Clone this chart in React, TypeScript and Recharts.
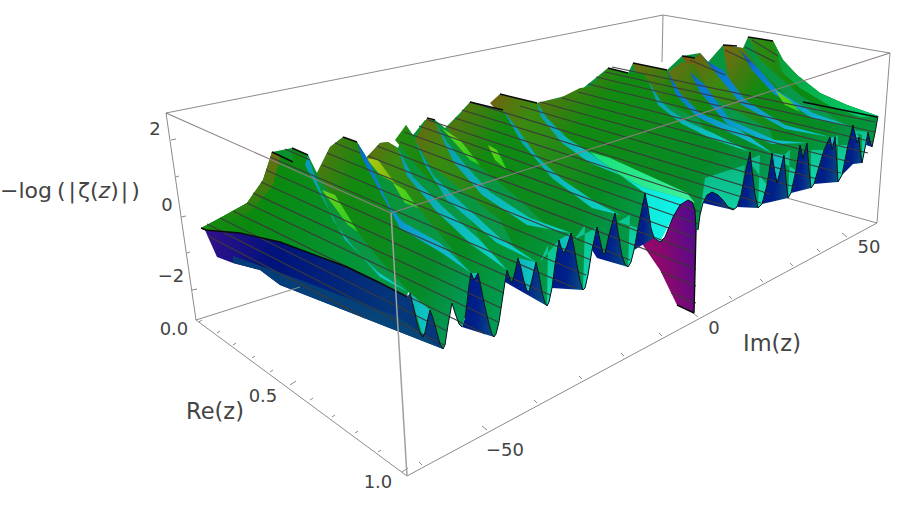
import { ComposedChart, Area, Line, XAxis, YAxis, ReferenceDot } from 'recharts'

type Pt = [number, number]

const BACK_EDGES = [
  [166, 113, 663, 15], [663, 15, 890, 53], [663, 15, 662, 62], [166, 113, 196, 320],
  [196, 320, 300, 287], [787, 198, 877, 223], [890, 53, 877, 223], [877, 223, 407, 476], [196, 320, 407, 476],
]
const FRONT_EDGES = [[166, 113, 391, 213], [391, 213, 890, 53]]
const FRONT_POST = [[391, 213, 407, 476]]

const HEIGHT_TICKS = [[171, 140, 176, 139], [176, 177, 179, 176], [181, 217, 186, 216], [187, 253, 190, 252], [192, 290, 197, 289]]
const RE_TICKS = [
  [199, 322, 202, 320], [217, 333, 220, 331], [233, 345, 236, 343], [252, 358, 255, 356], [270, 372, 273, 370],
  [290, 385, 296, 381], [310, 400, 313, 398], [332, 417, 335, 415], [355, 433, 358, 431], [378, 452, 381, 450], [402, 472, 408, 468],
]
const IM_TICKS = [
  [422, 465, 419, 462], [487, 430, 482, 426], [537, 403, 534, 400], [582, 379, 579, 376], [624, 356, 621, 353],
  [662, 336, 659, 333], [698, 317, 693, 313], [732, 299, 729, 296], [763, 282, 760, 279], [793, 266, 790, 263],
  [820, 252, 817, 249], [847, 237, 842, 233],
]

// the curve along Re(z) = 1, left of the pole / up to the pole / right of the pole
const FRONT_A: Pt[] = [[410, 293], [413, 305], [417, 323], [420, 333], [423, 337], [425, 333], [428, 318], [430, 310], [433, 318], [437, 333], [440, 344], [443, 349], [445, 345], [448, 325], [452, 303], [455, 313], [459, 324], [462, 327]]
const FRONT_B: Pt[] = [[465, 318], [467, 303], [469, 285], [471, 273], [474, 280], [478, 273], [481, 287], [485, 307], [489, 324], [492, 334], [494, 337], [496, 334], [499, 322], [502, 302], [505, 282], [507, 270], [510, 279], [512, 283], [515, 272], [518, 258], [521, 268], [524, 282], [527, 291], [529, 292], [532, 280], [536, 262], [539, 275], [542, 292], [545, 303], [547, 306], [549, 302], [552, 288], [555, 265], [559, 240], [561, 248], [564, 253], [567, 246], [571, 233], [574, 247], [577, 265], [580, 281], [583, 290], [585, 288], [588, 275], [592, 250], [597, 227], [600, 240], [603, 254], [605, 253], [609, 235], [615, 213], [618, 232], [622, 256], [625, 264], [628, 267], [631, 262], [634, 250], [638, 228], [645, 193], [648, 208], [651, 228], [654, 238], [660, 242], [665, 237], [673, 217], [680, 205], [688, 200], [692, 202], [695, 210], [696, 230]]
const FRONT_C: Pt[] = [[698, 230], [700, 215], [703, 203], [707, 195], [712, 192], [718, 195], [723, 200], [728, 207], [733, 210], [737, 207], [741, 195], [746, 170], [750, 152], [752, 170], [755, 195], [758, 208], [762, 204], [767, 185], [772, 153], [774, 168], [777, 183], [780, 172], [784, 155], [786, 180], [788, 198], [791, 193], [796, 170], [800, 145], [803, 158], [807, 143], [809, 170], [811, 188], [814, 184], [818, 170], [824, 150], [830, 137], [832, 150], [835, 137], [837, 165], [838, 182], [842, 175], [848, 145], [853, 125], [857, 143], [859, 137], [860, 150], [862, 163], [865, 148], [868, 132], [870, 142], [872, 147], [875, 133], [878, 116]]
const FRONT = [...FRONT_A, ...FRONT_B, ...FRONT_C]

// top of the whole surface, then the crests of the front curve
const BODY: Pt[] = [[201, 228], [220, 218], [247, 203], [263, 180], [272, 152], [292, 148], [308, 155], [317, 173], [330, 147], [343, 137], [357, 142], [366, 158], [380, 143], [388, 142], [398, 148], [406, 125], [413, 135], [425, 120], [435, 120], [445, 128], [460, 113], [470, 102], [503, 110], [537, 103], [577, 93], [608, 68], [628, 73], [633, 63], [667, 70], [682, 56], [700, 53], [708, 62], [723, 45], [743, 48], [748, 37], [773, 41], [783, 60], [797, 75], [820, 93], [847, 105], [878, 116], [853, 125], [830, 137], [807, 143], [784, 155], [772, 153], [750, 152], [712, 192], [688, 200], [645, 193], [615, 213], [597, 227], [571, 233], [536, 262], [518, 258], [507, 270], [478, 273], [471, 273], [452, 303], [430, 310], [410, 293], [205, 230]]

// ridge crest and flank of each wedge, right to left
const R1: Pt[] = [[748, 37], [773, 41], [783, 60], [797, 75], [820, 93], [847, 105], [878, 116]]
const R1_EDGE: Pt[] = [[773, 41], [783, 60], [797, 75], [820, 93], [847, 105], [878, 116], [860, 117], [830, 106], [800, 88], [782, 72]]
const R2: Pt[] = [[723, 45], [743, 48], [760, 70], [790, 100], [815, 120], [853, 125]]
const R2_EDGE: Pt[] = [[740, 50], [757, 67], [777, 90], [813, 113], [852, 127], [812, 118], [774, 94], [752, 70]]
const R3: Pt[] = [[682, 56], [695, 58], [700, 53], [708, 62], [723, 70], [745, 100], [785, 125], [830, 137]]
const R3_EDGE: Pt[] = [[700, 53], [708, 62], [723, 70], [745, 100], [785, 125], [830, 137], [785, 129], [742, 105], [718, 76]]
const R4: Pt[] = [[668, 72], [682, 62], [695, 65], [705, 85], [730, 120], [775, 140], [807, 143]]
const R4_EDGE: Pt[] = [[690, 72], [705, 85], [730, 120], [775, 140], [807, 143], [772, 144], [727, 124], [700, 92]]
const R5: Pt[] = [[633, 63], [667, 70], [680, 93], [700, 113], [740, 130], [772, 153]]
const R5_EDGE: Pt[] = [[667, 70], [680, 93], [700, 113], [740, 130], [772, 153], [737, 136], [697, 117], [676, 95]]
const R6: Pt[] = [[537, 103], [560, 98], [580, 88], [590, 87], [608, 68], [628, 73], [643, 73], [660, 100], [670, 110], [690, 123], [713, 133], [750, 152]]
const R6_EDGE: Pt[] = [[648, 80], [660, 100], [670, 110], [690, 123], [713, 133], [750, 152], [712, 139], [682, 124], [658, 105]]
const R7: Pt[] = [[490, 103], [500, 94], [537, 103], [547, 118], [567, 138], [590, 153], [620, 175], [645, 193]]
const R7_EDGE: Pt[] = [[537, 103], [547, 118], [567, 138], [590, 153], [620, 175], [590, 163], [562, 143], [541, 117]]
const R8: Pt[] = [[447, 127], [460, 115], [470, 102], [503, 110], [517, 128], [537, 157], [563, 180], [597, 203], [620, 215], [615, 213]]
const R8_EDGE: Pt[] = [[503, 110], [517, 128], [537, 157], [563, 180], [597, 203], [620, 215], [592, 208], [552, 178], [522, 143]]
const R9: Pt[] = [[415, 140], [427, 118], [435, 122], [447, 142], [467, 167], [490, 192], [530, 218], [571, 233]]
const R9_EDGE: Pt[] = [[435, 122], [447, 142], [467, 167], [490, 192], [530, 218], [571, 233], [527, 225], [482, 195], [454, 163]]
const R10: Pt[] = [[395, 140], [406, 125], [415, 140], [433, 175], [453, 195], [500, 238], [536, 262]]
const R10_EDGE: Pt[] = [[415, 140], [433, 175], [453, 195], [500, 238], [536, 262], [497, 243], [447, 200], [425, 165]]
const R11: Pt[] = [[366, 158], [380, 143], [388, 142], [398, 148], [413, 177], [443, 207], [480, 240], [507, 270]]
const R11_EDGE: Pt[] = [[398, 148], [413, 177], [443, 207], [480, 240], [507, 270], [472, 245], [437, 212], [407, 176]]
const R12: Pt[] = [[317, 173], [330, 147], [343, 137], [357, 142], [367, 158], [390, 207], [403, 222], [440, 243], [471, 273]]
const R12_EDGE: Pt[] = [[357, 142], [367, 158], [390, 207], [403, 222], [440, 243], [471, 273], [442, 253], [400, 228], [383, 197], [362, 158]]
const R13: Pt[] = [[201, 228], [220, 218], [247, 203], [263, 180], [272, 152], [293, 162], [292, 148], [308, 155], [315, 177], [333, 220], [350, 243], [380, 277], [408, 292], [407, 297], [380, 283], [347, 267], [280, 242], [240, 233], [205, 230]]
const R13_EDGE: Pt[] = [[308, 155], [315, 177], [333, 220], [350, 243], [380, 277], [408, 292], [378, 272], [345, 240], [326, 205], [305, 165]]
const R13_WARM: Pt[] = [[209, 224], [220, 218], [247, 203], [263, 180], [272, 152], [280, 156], [273, 185], [252, 210], [228, 222]]
const WALL_TOP: Pt[] = [[205, 230], [240, 233], [280, 242], [347, 267], [380, 283], [407, 297]]
const WALL_FOOT: Pt[] = [[280, 285], [260, 270], [233, 263], [217, 257], [208, 237]]
const WALL_SHADE: Pt[] = [[233, 256], [300, 280], [400, 318], [443, 349], [280, 285], [260, 270], [233, 263]]

const TROUGH_BAND: Pt[] = [[590, 152], [610, 158], [643, 173], [687, 193], [695, 203], [687, 200], [643, 187], [610, 170]]
const TROUGH: Pt[] = [[610, 170], [643, 187], [688, 200], [673, 217], [660, 242], [653, 237], [645, 193], [620, 185]]
const POLE_FOOT: Pt[] = [[694, 313], [677, 305], [660, 270], [638, 238]]

const LIME_A: Pt[] = [[322, 190], [335, 195], [358, 232], [348, 225]]
const LIME_B: Pt[] = [[393, 183], [405, 190], [418, 208], [405, 203]]
const LIME_C: Pt[] = [[488, 145], [497, 150], [507, 170], [495, 160]]
const LIME_D: Pt[] = [[442, 128], [460, 140], [480, 165], [470, 160]]
const LIME_E: Pt[] = [[775, 90], [790, 100], [800, 112], [785, 105]]
const YELLOW: Pt[] = [[366, 158], [378, 160], [395, 183], [380, 175]]

// long mesh lines from the ridge tops to the front edge
const MESH = [
  [612, 67, 875, 122], [605, 72, 875, 132], [596, 77, 873, 142], [588, 84, 868, 153], [578, 92, 850, 162],
  [562, 98, 841, 173], [540, 102, 817, 179], [520, 106, 795, 187], [470, 102, 770, 194], [462, 110, 761, 203],
  [455, 118, 734, 209], [428, 120, 701, 212], [419, 126, 698, 224], [404, 132, 696, 238], [400, 142, 696, 253],
  [377, 146, 696, 269], [368, 156, 630, 260], [661, 272, 696, 286], [335, 143, 360, 153], [327, 153, 591, 260], [671, 293, 696, 303],
  [285, 149, 310, 160], [322, 165, 586, 275], [270, 157, 575, 288], [266, 170, 550, 295], [261, 182, 504, 293], [253, 193, 501, 308],
  [247, 203, 498, 322], [233, 211, 485, 334], [220, 218, 447, 331], [207, 224, 444, 345], [208, 236, 365, 318],
  [745, 47, 775, 62], [752, 40, 778, 56], [725, 50, 750, 62], [690, 60, 725, 75],
]

const CUT_EDGES = [
  [272, 152, 293, 162], [292, 148, 308, 155], [343, 137, 357, 142], [427, 118, 435, 120], [470, 102, 503, 110],
  [500, 94, 537, 103], [608, 68, 628, 73], [633, 63, 667, 70], [682, 56, 695, 58], [723, 45, 737, 46],
  [748, 37, 773, 41], [803, 102, 877, 117], [205, 230, 240, 233, 280, 242, 347, 267, 380, 283, 407, 297],
  [201, 228, 206, 230], [677, 305, 694, 313], [696, 230, 694, 313],
]

const TICK_LABELS: { x: number; y: number; text: string }[] = [
  { x: 155, y: 128, text: '2' }, { x: 167, y: 204, text: '0' }, { x: 171, y: 275, text: '−2' },
  { x: 174, y: 328, text: '0.0' }, { x: 263, y: 395, text: '0.5' }, { x: 378, y: 481, text: '1.0' },
  { x: 505, y: 449, text: '−50' }, { x: 714, y: 327, text: '0' }, { x: 869, y: 246, text: '50' },
]
const AXIS_LABELS: { x: number; y: number; text: string }[] = [
  { x: 215, y: 411, text: 'Re(z)' }, { x: 772, y: 343, text: 'Im(z)' },
]

const GRADIENTS: Record<string, [number, string][]> = {
  warm: [[0, '#8a2a10'], [0.14, '#7a6a10'], [0.38, '#128a10'], [0.75, '#068a28'], [1, '#00a070']],
  violet: [[0, '#6a1a90'], [0.12, '#8a5010'], [0.34, '#3a8a10'], [0.7, '#068a20'], [1, '#00a060']],
  plain: [[0, '#3f8a10'], [0.5, '#0a8a10'], [1, '#009a50']],
  edge: [[0, '#0878c8'], [0.35, '#08a0b0'], [1, '#10d4c4']],
  darkEdge: [[0, '#101a90'], [0.35, '#0878d0'], [1, '#10ccc8']],
  band: [[0, '#00d860'], [1, '#40f0a0']],
  trough: [[0, '#08a088'], [0.6, '#10e8d8'], [1, '#10f8f0']],
  tooth: [[0, '#00107a'], [0.7, '#00208a'], [1, '#0a5080']],
  gap: [[0, '#08a8a8'], [1, '#10c8c8']],
  lime: [[0, '#a8d010'], [1, '#20d020']],
  yellow: [[0, '#e8d810'], [1, '#70b810']],
  rim: [[0, '#108a20'], [1, '#00d070']],
  body: [[0, '#0a8a10'], [1, '#08a070']],
}
const VERTICAL_GRADIENTS: Record<string, [number, string][]> = {
  warmRim: [[0, '#8a3a10'], [0.65, '#7a6a10'], [1, '#128a10']],
  valley: [[0, '#0a8a28'], [0.6, '#08a868'], [1, '#10dcb8']],
  shade: [[0, '#00127c'], [1, '#064878']],
}

// picks a stretch of the front curve, left to right or right to left
const asc = (a: number, b: number) => FRONT.filter(([x]) => x >= a && x <= b)
const desc = (a: number, b: number) => asc(a, b).reverse()

function closed(points: Pt[]) {
  return [...points, points[0]].map(([x, y]) => ({ x, y }))
}

function polylines(list: number[][]) {
  const out: { x: number; y: number | null }[] = []
  list.forEach(line => {
    for (let i = 0; i < line.length; i += 2) out.push({ x: line[i], y: line[i + 1] })
    out.push({ x: line[line.length - 2], y: null })
  })
  return out
}

const toFlat = (pts: Pt[]) => pts.flat()

const LAYERS: [Pt[], string][] = [
  [BODY, 'body'],
  [[...R1, ...desc(859, 877), [845, 125], [800, 95], [760, 60]], 'plain'], [R1_EDGE, 'rim'],
  [[[853, 125], [859, 137], [857, 143]], 'gap'], [[[868, 132], [872, 147], [866, 145]], 'tooth'],
  [[[850, 130], ...desc(862, 868), [862, 135]], 'valley'],
  [[...asc(842, 862), [853, 164]], 'tooth'],
  [[...R2, ...desc(818, 852), [790, 150], [730, 90]], 'warm'], [R2_EDGE, 'darkEdge'], [LIME_E, 'lime'],
  [[[825, 145], ...desc(838, 848), [838, 135]], 'valley'],
  [[[830, 137], [835, 137], [832, 150]], 'gap'], [asc(814, 838), 'tooth'],
  [[...R3, ...desc(791, 829), [770, 130], [700, 90]], 'violet'], [R3_EDGE, 'darkEdge'],
  [[[800, 150], ...desc(811, 824), [811, 150]], 'valley'],
  [[[800, 145], [807, 143], [803, 158]], 'gap'], [asc(791, 811), 'tooth'],
  [[...R4, ...desc(762, 806), [720, 140], [680, 100]], 'warm'], [R4_EDGE, 'darkEdge'],
  [[[778, 160], ...desc(788, 796), [790, 150]], 'valley'],
  [[[772, 153], [784, 155], [777, 183]], 'gap'], [asc(762, 788), 'tooth'],
  [[...R5, ...desc(737, 771), [700, 120], [640, 90]], 'warm'], [R5_EDGE, 'darkEdge'],
  [[[748, 160], ...desc(758, 767), [760, 155]], 'valley'],
  [asc(737, 758), 'tooth'],
  [[...R6, ...desc(698, 749), [696, 230], [688, 200], [650, 190], [560, 150]], 'warm'], [R6_EDGE, 'edge'],
  [[[705, 178], [745, 165], ...desc(733, 741), ...desc(698, 733)], 'valley'], [asc(703, 733), 'tooth'],
  [TROUGH_BAND, 'band'], [TROUGH, 'trough'], [[...asc(654, 696), ...POLE_FOOT], 'pole'], [asc(634, 654), 'tooth'],
  [[...R7, ...desc(609, 644), [605, 257], [560, 180]], 'violet'], [R7_EDGE, 'edge'],
  [[[618, 222], ...desc(628, 638), [630, 215]], 'valley'],
  [[...R8, ...desc(567, 609), [520, 200], [460, 150]], 'warm'], [R8_EDGE, 'edge'], [LIME_C, 'lime'],
  [[[574, 240], ...desc(583, 597), [585, 225]], 'valley'],
  [[...asc(592, 628), [597, 258]], 'tooth'],
  [[...R9, ...desc(532, 570), [500, 220], [430, 165]], 'violet'], [R9_EDGE, 'edge'], [LIME_D, 'lime'],
  [[[540, 262], ...desc(547, 559), [548, 245]], 'valley'],
  [[[559, 240], [571, 233], [564, 253]], 'gap'], [asc(552, 583), 'tooth'],
  [[...R10, ...desc(505, 535), [470, 220], [420, 170]], 'plain'], [R10_EDGE, 'edge'],
  [[[488, 285], ...desc(494, 507), [498, 270]], 'valley'],
  [[[518, 258], [536, 262], [528, 293]], 'gap'], [asc(505, 547), 'tooth'],
  [[...R11, ...desc(478, 506), [471, 273], [420, 210], [380, 170]], 'violet'], [R11_EDGE, 'edge'], [YELLOW, 'yellow'], [LIME_B, 'lime'],
  [[[471, 273], [478, 273], [474, 280]], 'gap'], [asc(462, 494), 'tooth'],
  [[...R12, ...desc(410, 470), [380, 260], [340, 210]], 'warm'], [R12_EDGE, 'darkEdge'], [LIME_A, 'lime'],
  [[[410, 293], [430, 310], [423, 337]], 'gap'],
  [[...WALL_TOP, ...asc(410, 443), ...WALL_FOOT], 'wall'], [WALL_SHADE, 'shade'],
  [R13, 'plain'], [R13_WARM, 'warmRim'], [R13_EDGE, 'edge'],
]

export default function App() {
  return (
    <div style={{ position: 'absolute', left: 0, top: 0, background: '#fff' }}>
      <ComposedChart width={900} height={510} margin={{ top: 0, right: 0, bottom: 0, left: 0 }}>
        <defs>
          {Object.entries(GRADIENTS).map(([id, stops]) => (
            <linearGradient key={id} id={id} x1="0" y1="0" x2="1" y2="1">
              {stops.map(([o, c]) => <stop key={o} offset={o} stopColor={c} />)}
            </linearGradient>
          ))}
          {Object.entries(VERTICAL_GRADIENTS).map(([id, stops]) => (
            <linearGradient key={id} id={id} x1="0" y1="0" x2="0" y2="1">
              {stops.map(([o, c]) => <stop key={o} offset={o} stopColor={c} />)}
            </linearGradient>
          ))}
          <linearGradient id="wall" x1="0" y1="0" x2="1" y2="0.4">
            <stop offset={0} stopColor="#8a0a78" />
            <stop offset={0.25} stopColor="#30108a" />
            <stop offset={0.5} stopColor="#00127c" />
            <stop offset={1} stopColor="#04387a" />
          </linearGradient>
          <linearGradient id="pole" x1="0.9" y1="0" x2="0.25" y2="0.75">
            <stop offset={0} stopColor="#10107a" />
            <stop offset={0.55} stopColor="#5a0a8a" />
            <stop offset={1} stopColor="#90086a" />
          </linearGradient>
        </defs>
        <XAxis dataKey="x" type="number" domain={[0, 900]} hide />
        <YAxis type="number" domain={[0, 510]} reversed hide />

        <Line data={polylines(BACK_EDGES)} dataKey="y" stroke="#8c8c8c" strokeWidth={1} dot={false} activeDot={false} isAnimationActive={false} />
        <Line data={polylines([...HEIGHT_TICKS, ...RE_TICKS, ...IM_TICKS])} dataKey="y" stroke="#8c8c8c" strokeWidth={1} dot={false} activeDot={false} isAnimationActive={false} />

        {LAYERS.map(([points, fill], i) => (
          <Area
            key={i}
            data={closed(points)}
            dataKey="y"
            baseValue={0}
            type="linear"
            stroke="none"
            fill={`url(#${fill})`}
            fillOpacity={1}
            dot={false}
            activeDot={false}
            isAnimationActive={false}
          />
        ))}

        <Line data={polylines(MESH)} dataKey="y" stroke="#3a3a3a" strokeOpacity={0.95} strokeWidth={1.2} dot={false} activeDot={false} isAnimationActive={false} />
        <Line data={polylines([toFlat(FRONT_A), toFlat(FRONT_B), toFlat(FRONT_C)])} dataKey="y" stroke="#06121c" strokeWidth={1} dot={false} activeDot={false} isAnimationActive={false} />
        <Line data={polylines(CUT_EDGES)} dataKey="y" stroke="#0a0a0a" strokeWidth={1.4} dot={false} activeDot={false} isAnimationActive={false} />
        <Line data={polylines(FRONT_EDGES)} dataKey="y" stroke="#8c7f80" strokeWidth={1.1} dot={false} activeDot={false} isAnimationActive={false} />
        <Line data={polylines(FRONT_POST)} dataKey="y" stroke="#a0a0a0" strokeWidth={1.5} dot={false} activeDot={false} isAnimationActive={false} />

        {TICK_LABELS.map(t => (
          <ReferenceDot key={t.text + t.x} x={t.x} y={t.y} r={0} shape={(p: any) => (
            <text x={p.cx} y={p.cy} textAnchor="middle" dominantBaseline="central" fontFamily="DejaVu Sans" fontSize={18} fill="#444">{t.text}</text>
          )} />
        ))}
        {AXIS_LABELS.map(t => (
          <ReferenceDot key={t.text} x={t.x} y={t.y} r={0} shape={(p: any) => (
            <text x={p.cx} y={p.cy} textAnchor="middle" dominantBaseline="central" fontFamily="DejaVu Sans" fontSize={22.5} fill="#444">{t.text}</text>
          )} />
        ))}
        <ReferenceDot x={0} y={190} r={0} ifOverflow="visible" shape={(p: any) => (
          <text x={p.cx} y={p.cy} dominantBaseline="central" fontFamily="DejaVu Sans" fontSize={22} fill="#444">
            −log
            <tspan dx={5}>(</tspan>
            <tspan dx={3}>|</tspan>
            <tspan dx={2}>ζ(</tspan>
            <tspan fontStyle="italic">z</tspan>
            <tspan>)</tspan>
            <tspan dx={2}>|</tspan>
            <tspan dx={3}>)</tspan>
          </text>
        )} />
      </ComposedChart>
    </div>
  )
}
